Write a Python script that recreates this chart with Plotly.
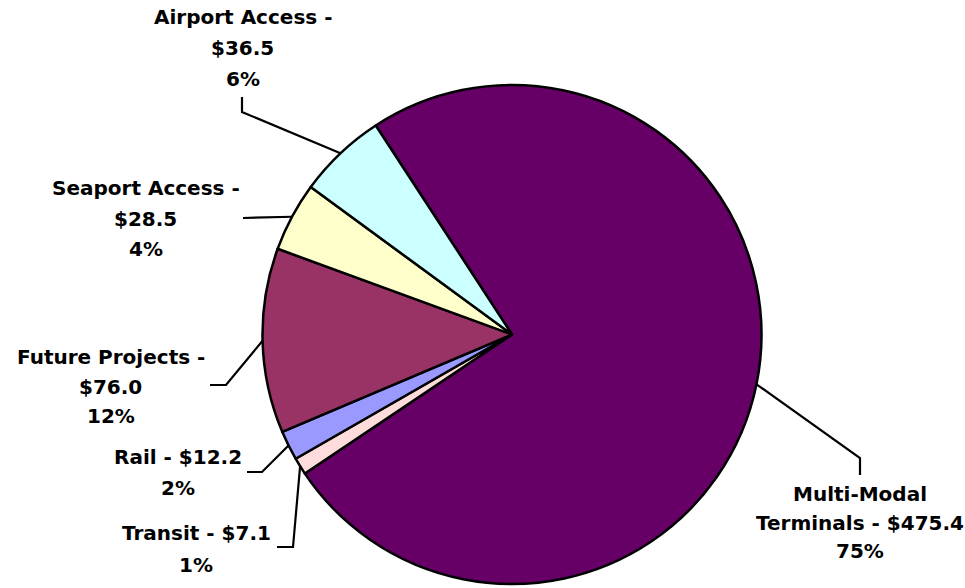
import math
import plotly.graph_objects as go

# Capital program breakdown ($ millions)
categories = ["Multi-Modal Terminals", "Transit", "Rail", "Future Projects",
              "Seaport Access", "Airport Access"]
amounts = [475.4, 7.1, 12.2, 76.0, 28.5, 36.5]
percent_labels = ["75%", "1%", "2%", "12%", "4%", "6%"]
colors = ["#660066", "#FFDCDC", "#9999FF", "#993366", "#FFFFCC", "#CCFFFF"]

# Label text lines per slice
label_lines = [
    ["Multi-Modal", "Terminals - $475.4", "75%"],
    ["Transit - $7.1", "1%"],
    ["Rail - $12.2", "2%"],
    ["Future Projects -", "$76.0", "12%"],
    ["Seaport Access -", "$28.5", "4%"],
    ["Airport Access -", "$36.5", "6%"],
]

W, H = 965, 588
CX, CY, R = 512.0, 334.5, 249.5
ROTATION = -33.1

# label placement: (center x, first line y, line step) in pixels
label_pos = [
    (859.5, 494, 28.5),
    (196, 533, 32),
    (177.5, 457, 31),
    (110.5, 357, 29.5),
    (145.5, 188, 30.5),
    (242.5, 17, 31),
]
# leader line bends after the slice edge point (pixels)
leader_bends = [
    [(860, 458), (860, 475)],
    [(293, 547), (277, 547)],
    [(262, 472), (247, 472)],
    [(226, 385), (210, 385)],
    [(243, 218)],
    [(242, 112), (242, 97)],
]


def px(x, y):
    return x / W, 1 - y / H


fig = go.Figure(go.Pie(
    labels=categories,
    values=amounts,
    sort=False,
    direction="clockwise",
    rotation=ROTATION,
    marker=dict(colors=colors, line=dict(color="black", width=2.5)),
    textinfo="none",
    hoverinfo="label+value+percent",
    showlegend=False,
    domain=dict(x=[(CX - R) / W, (CX + R) / W],
                y=[1 - (CY + R) / H, 1 - (CY - R) / H]),
))

total = sum(amounts)
cum = 0.0
shapes = []
annotations = []
font = dict(family="DejaVu Sans", size=20, color="black", weight="bold")
for i, v in enumerate(amounts):
    mid = math.radians(ROTATION + 360.0 * (cum + v / 2) / total)
    cum += v
    sx, sy = CX + R * math.sin(mid), CY - R * math.cos(mid)
    pts = [(sx, sy)] + leader_bends[i]
    path = ""
    for j, (x, y) in enumerate(pts):
        ux, uy = px(x, y)
        path += ("M" if j == 0 else " L") + f"{ux:.5f},{uy:.5f}"
    shapes.append(dict(type="path", xref="paper", yref="paper", path=path,
                       line=dict(color="black", width=2.2)))
    lx, ly, step = label_pos[i]
    for k, line in enumerate(label_lines[i]):
        ax, ay = px(lx, ly + k * step)
        annotations.append(dict(text=line, x=ax, y=ay, xref="paper", yref="paper",
                                xanchor="center", yanchor="middle",
                                showarrow=False, font=font))

fig.update_layout(
    width=W, height=H,
    margin=dict(l=0, r=0, t=0, b=0),
    paper_bgcolor="white", plot_bgcolor="white",
    shapes=shapes, annotations=annotations,
)

fig.write_html("out.html")
